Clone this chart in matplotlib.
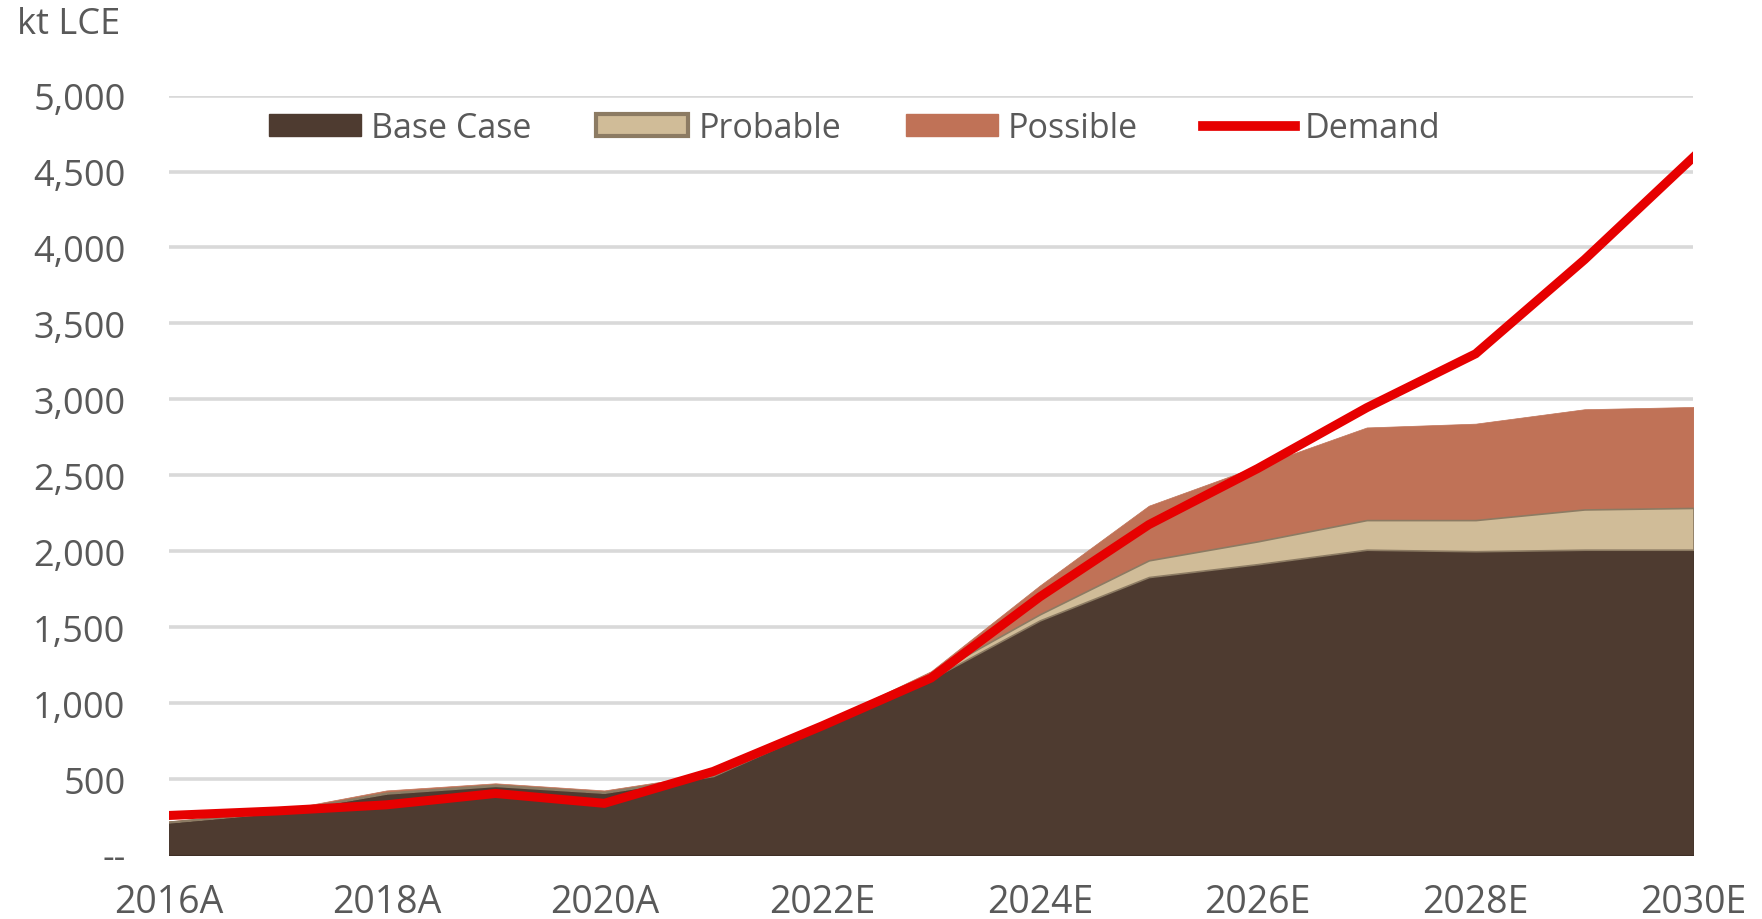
import numpy as np
import matplotlib
matplotlib.use("Agg")
import matplotlib.pyplot as plt
from matplotlib.patches import Patch
from matplotlib.lines import Line2D
from matplotlib.ticker import FuncFormatter

plt.rcParams['font.family'] = ['Open Sans', 'DejaVu Sans']

# data (kt LCE)
years = ["2016A", "2017A", "2018A", "2019A", "2020A", "2021E", "2022E", "2023E",
         "2024E", "2025E", "2026E", "2027E", "2028E", "2029E", "2030E"]
base_case = [215, 280, 405, 455, 410, 520, 840, 1160, 1545, 1830, 1915, 2010, 2000, 2010, 2010]
probable = [3, 3, 5, 7, 5, 5, 15, 25, 40, 110, 150, 195, 205, 265, 275]
possible = [4, 7, 15, 10, 10, 10, 10, 25, 190, 360, 495, 610, 635, 660, 665]
demand = [260, 290, 330, 405, 340, 550, 850, 1165, 1700, 2175, 2545, 2945, 3300, 3920, 4595]

c_base = "#4e3b30"
c_prob = "#d0bc98"
c_prob_edge = "#8c7b63"
c_poss = "#c07257"
c_dem = "#e60000"
c_text = "#595959"
c_grid = "#d9d9d9"

x = np.arange(len(years))
base = np.array(base_case)
prob_top = base + np.array(probable)
poss_top = prob_top + np.array(possible)

fig = plt.figure(figsize=(17.62, 9.2), dpi=100)
ax = fig.add_axes([0.0957, 0.0696, 0.8654, 0.8254])

for v in range(0, 5001, 500):
    ax.axhline(v, color=c_grid, lw=2.6, zorder=0)

ax.fill_between(x, 0, base, color=c_base, lw=0.8, edgecolor="#3e2e25", zorder=2)
ax.fill_between(x, base, prob_top, facecolor=c_prob, edgecolor=c_prob_edge, lw=1.2, zorder=2)
ax.fill_between(x, prob_top, poss_top, color=c_poss, lw=0.5, zorder=1.9)
ax.plot(x, demand, color=c_dem, lw=6.5, solid_joinstyle="miter", zorder=3)

ax.set_xlim(0, len(years) - 1)
ax.set_ylim(0, 5000)
ax.set_xticks(x[::2])
ax.set_xticklabels(years[::2])
ax.set_yticks(range(0, 5001, 500))
ax.yaxis.set_major_formatter(FuncFormatter(lambda v, p: "--" if v == 0 else f"{int(v):,}"))
ax.tick_params(length=0, labelcolor=c_text)
ax.tick_params(axis="y", pad=31, labelsize=26)
ax.tick_params(axis="x", pad=20, labelsize=27)
for s in ax.spines.values():
    s.set_visible(False)

fig.text(0.0096, 0.973, "kt LCE", fontsize=26, color=c_text, va="center", ha="left")

handles = [
    Patch(facecolor=c_base, edgecolor=c_base, label="Base Case"),
    Patch(facecolor=c_prob, edgecolor=c_prob_edge, lw=3, label="Probable"),
    Patch(facecolor=c_poss, edgecolor=c_poss, label="Possible"),
    Line2D([0], [0], color=c_dem, lw=7, label="Demand"),
]
leg = ax.legend(handles=handles, ncol=4, frameon=False, loc="center",
                bbox_to_anchor=(0.45, 0.957), fontsize=24.5, handlelength=2.7,
                handleheight=0.6, handletextpad=0.3, columnspacing=1.9)
for t in leg.get_texts():
    t.set_color(c_text)

fig.savefig("out.png", dpi=100)
